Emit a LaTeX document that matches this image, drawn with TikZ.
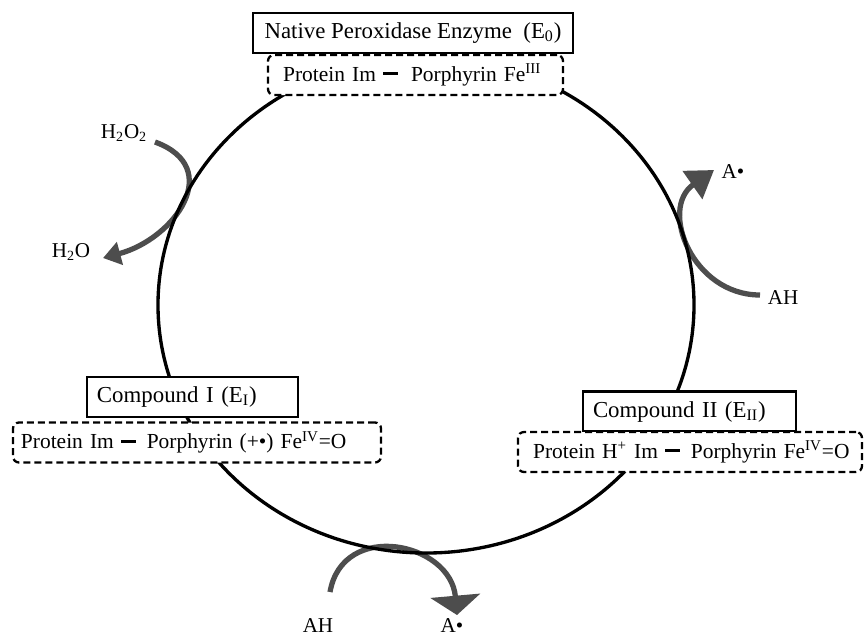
\documentclass[tikz,border=0pt]{standalone}
\usepackage{fontspec}
\setmainfont{Liberation Serif}
\usetikzlibrary{arrows.meta}
\definecolor{arrgray}{HTML}{4D4D4D}
\newcommand{\bond}{\rule[0.28em]{0.7em}{0.14em}}

\begin{document}
\begin{tikzpicture}[x=0.2mm, y=-0.2mm,
    cmpd/.style={draw, line width=1.6pt, fill=white, inner xsep=2mm, inner ysep=0pt,
        minimum height=8mm, align=left, font=\fontsize{13}{15}\selectfont},
    grp/.style={draw, line width=1.3pt, dash pattern=on 1.4mm off 0.8mm, rounded corners=1.2mm,
        fill=white, inner xsep=1.6mm, inner ysep=0pt, minimum height=8mm, align=left,
        font=\fontsize{12.2}{14}\selectfont},
    lbl/.style={font=\fontsize{12}{14}\selectfont, inner sep=0pt},
    flow/.style={arrgray, line width=3pt}]
    \useasboundingbox (0,0) rectangle (867,638);

    % substrates and products
    \node[lbl] (h2o2) at (124,133) {H\textsubscript{2}O\textsubscript{2}};
    \node[lbl] (h2o) at (71,252) {H\textsubscript{2}O};
    \node[lbl] (ahr) at (783,298) {AH};
    \node[lbl] (ar) at (733,172) {A\textbullet};
    \node[lbl] (ahb) at (318,626) {AH};
    \node[lbl] (ab) at (452,626) {A\textbullet};

    \coordinate (h2o2s) at (155,142);
    \coordinate (h2ot) at (103,258);
    \coordinate (ahrs) at (760,295);
    \coordinate (art) at (714,170);
    \coordinate (ahbs) at (330,592);
    \coordinate (abt) at (457,615);

    \draw[flow, -{Triangle[length=10pt, width=13pt]}]
        (h2o2s) to[out=-20, in=15, looseness=1.5] (h2ot);
    \draw[flow, -{Triangle[length=15pt, width=19pt]}]
        (ahrs) to[out=180, in=215, looseness=1.3] (art);
    \draw[flow, -{Triangle[length=11pt, width=28pt]}]
        (ahbs) to[out=80, in=95, looseness=1.45] (abt);

    % the cycle
    \draw[line width=1.9pt] (426,305) ellipse [x radius=53.6mm, y radius=49.6mm];

    % enzyme states
    \node[cmpd, align=center, minimum width=64mm] (e0) at (413,33)
        {Native Peroxidase Enzyme\ \ (E\textsubscript{0})};
    \node[grp, text width=55.8mm] (e0g) at (415.5,75)
        {\ Protein Im~\bond\hspace{0.6em}Porphyrin Fe\textsuperscript{III}};
    \node[cmpd, text width=38.2mm] (e1) at (192.5,397)
        {Compound I (E\textsubscript{I})};
    \node[grp, text width=70.4mm] (e1g) at (197,442.5)
        {Protein Im~\bond\hspace{0.5em}Porphyrin (+\textbullet) Fe\textsuperscript{IV}=O};
    \node[cmpd, text width=38.6mm] (e2) at (689.5,411.5)
        {Compound II (E\textsubscript{II})};
    \node[grp, text width=65.6mm] (e2g) at (690,452)
        {\ Protein H\textsuperscript{+} Im~\bond\hspace{0.5em}Porphyrin Fe\textsuperscript{IV}=O};
\end{tikzpicture}
\end{document}
